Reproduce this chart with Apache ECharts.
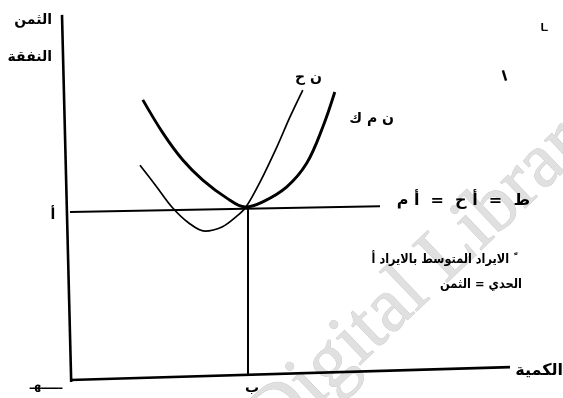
<!DOCTYPE html>
<html>
<head>
<meta charset="utf-8">
<script src="https://cdn.jsdelivr.net/npm/echarts@6/dist/echarts.min.js"></script>
<style>
  html, body { margin: 0; padding: 0; background: #fff; }
  #chart { width: 563px; height: 398px; }
</style>
</head>
<body>
<div id="chart"></div>
<script>
// Firm equilibrium under perfect competition: the average-cost curve (ن م ك)
// and the marginal-cost curve (ن ح) meet the horizontal price line at its minimum.

// Quantity (x) and price/cost (y) in chart units
const avgCostX = [1.82, 2.32, 2.82, 3.32, 3.92, 4.38, 4.82, 5.42, 5.92, 6.32, 6.62];
const avgCostY = [8.18, 7.21, 6.41, 5.82, 5.29, 5.03, 5.18, 5.62, 6.32, 7.38, 8.41];

const margCostX = [1.75, 2.15, 2.57, 2.97, 3.37, 3.80, 4.17, 4.40, 4.75, 5.17, 5.50, 5.82];
const margCostY = [6.26, 5.65, 5.00, 4.56, 4.32, 4.44, 4.76, 5.03, 5.76, 6.79, 7.68, 8.47];

// Price line ط = أح = أم (slightly skewed, as drawn by hand)
const priceX = [0.0, 7.75];
const priceY = [4.88, 5.05];

// Equilibrium quantity ب
const eqQ = [4.45, 4.45];
const eqY = [5.03, 0.08];

// Axes drawn as lines
const yAxisX = [-0.2, 0.03];
const yAxisY = [10.68, -0.12];
const xAxisX = [0.0, 11.0];
const xAxisY = [-0.06, 0.32];

const zip = (a, b) => a.map((v, i) => [v, b[i]]);

// pixel scale of the drawing: 40 px per quantity unit, 34 px per price unit
const W = 563, H = 398, ox = 70, oy = 378, ux = 40, uy = 34;

const chart = echarts.init(document.getElementById('chart'), null, { renderer: 'canvas' });
const ink = '#000';
const arabic = '"DejaVu Sans", sans-serif';

function lineSeries(data, width, smooth) {
  return {
    type: 'line', data, symbol: 'none', clip: false,
    smooth: smooth || false,
    lineStyle: { color: ink, width }, z: 3
  };
}

function label(text, x, y, size, opts) {
  const o = opts || {};
  return {
    type: 'text', x, y, rotation: o.rotation || 0,
    scaleX: o.scaleX || 1, z: 5,
    style: {
      text, fill: ink, font: 'bold ' + size + 'px ' + arabic,
      align: o.align || 'right', verticalAlign: 'middle'
    }
  };
}

chart.setOption({
  backgroundColor: '#fff',
  animation: false,
  grid: { left: 0, right: 0, top: 0, bottom: 0 },
  xAxis: { type: 'value', min: -ox / ux, max: (W - ox) / ux, show: false },
  yAxis: { type: 'value', min: (oy - H) / uy, max: oy / uy, show: false },
  series: [
    lineSeries(zip(yAxisX, yAxisY), 2.6),
    lineSeries(zip(xAxisX, xAxisY), 2.6),
    lineSeries(zip(priceX, priceY), 2),
    lineSeries(zip(eqQ, eqY), 2),
    lineSeries(zip(avgCostX, avgCostY), 2.9, 0.35),
    lineSeries(zip(margCostX, margCostY), 1.7, 0.35)
  ],
  graphic: [
    {
      type: 'text', x: 287, y: 460, rotation: 0.76, z: -10, silent: true,
      style: {
        text: 'Digital Library', fill: '#e0e0e0', stroke: '#c6c6c6', lineWidth: 0.8,
        font: '78px "Liberation Serif", serif', align: 'left', verticalAlign: 'bottom'
      }
    },
    label('الثمن', 52, 20, 14),
    label('النفقة', 52, 57, 14),
    label('أ', 53, 215, 14, { align: 'center' }),
    label('ن ح', 322, 78, 14),
    label('ن م ك', 394, 119, 14),
    label('ط  =  أ ح  =  أ م', 530, 201, 16),
    label('الايراد المتوسط بالايراد أ ً', 513, 260, 13, { scaleX: 0.87 }),
    label('الحدي = الثمن', 522, 285, 13, { scaleX: 0.88 }),
    label('الكمية', 563, 371, 16),
    label('ب', 252, 388, 14, { align: 'center' }),
    label('ـــــهـ', 46, 386, 12, { align: 'center' }),
    label('ا', 505, 77, 14, { align: 'center', rotation: 0.3 }),
    label('ـا', 544, 28, 10, { align: 'center' })
  ]
});
</script>
</body>
</html>
